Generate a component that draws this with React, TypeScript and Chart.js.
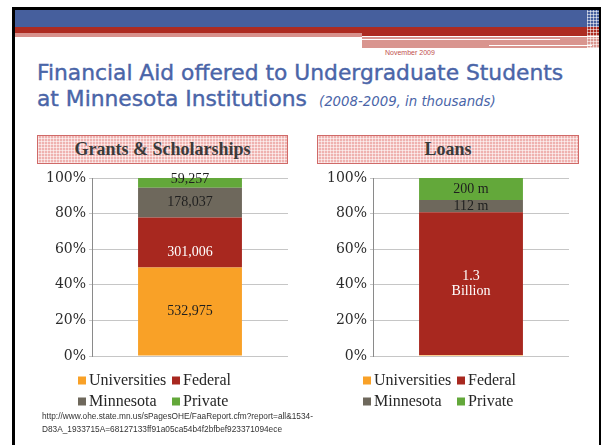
import React, { useEffect, useRef } from 'react';
import { Chart, registerables } from 'chart.js';

Chart.register(...registerables);

// ---------- data ----------
const seriesNames = ['Universities', 'Federal', 'Minnesota', 'Private'];
const seriesColors = ['#F9A127', '#A8281F', '#6E685C', '#63A83A'];
const labelColors = ['#1F1F1F', '#FFFFFF', '#1F1F1F', '#1F1F1F'];

const grantsCategory = ['Grants & Scholarships'];
const grantsValues = [532975, 301006, 178037, 59257]; // in thousands
const grantsLabels = ['532,975', '301,006', '178,037', '59,257'];

const loansCategory = ['Loans'];
const loansValues = [8, 1300, 112, 200]; // in millions
const loansLabels = ['', '1.3\nBillion', '112 m', '200 m'];

const yTickLabels = ['0%', '20%', '40%', '60%', '80%', '100%'];

// ---------- plugin: labels centred in each segment ----------
const segmentLabels = {
  id: 'segmentLabels',
  afterDatasetsDraw(chart: any, _args: any, opts: any) {
    const { ctx } = chart;
    ctx.save();
    ctx.font = '14px "Liberation Serif"';
    ctx.textAlign = 'center';
    ctx.textBaseline = 'middle';
    chart.data.datasets.forEach((_ds: any, di: number) => {
      const txt: string = opts.texts?.[di];
      if (!txt) return;
      const el = chart.getDatasetMeta(di).data[0];
      if (!el) return;
      const { x, y, base } = el.getProps(['x', 'y', 'base'], true);
      const lines = txt.split('\n');
      const lh = 15;
      const cy = (y + base) / 2 + ((opts.nudge && opts.nudge[di]) || 0);
      ctx.fillStyle = opts.colors[di];
      lines.forEach((ln, li) => {
        ctx.fillText(ln, x, cy + (li - (lines.length - 1) / 2) * lh);
      });
    });
    ctx.restore();
  },
};

// ---------- plugin: 2 x 2 legend under the plot ----------
const gridLegend = {
  id: 'gridLegend',
  afterDraw(chart: any, _args: any, opts: any) {
    const { ctx, chartArea } = chart;
    ctx.save();
    ctx.font = '16px "Liberation Serif"';
    ctx.textBaseline = 'middle';
    ctx.textAlign = 'left';
    chart.data.datasets.forEach((ds: any, i: number) => {
      const col = i % 2;
      const row = Math.floor(i / 2);
      const x = chartArea.left + opts.colX[col];
      const y = chartArea.bottom + opts.rowY[row];
      ctx.fillStyle = ds.backgroundColor;
      ctx.fillRect(x, y - 4, 8, 8);
      ctx.fillStyle = '#262626';
      ctx.fillText(ds.label, x + 11, y + 0.5);
    });
    ctx.restore();
  },
};

type StackProps = {
  category: string[];
  values: number[];
  texts: string[];
  yWidth: number;
  padRight: number;
  nudge?: Record<number, number>;
  colX: number[];
  width: number;
  height: number;
};

function StackChart({ category, values, texts, yWidth, padRight, nudge, colX, width, height }: StackProps) {
  const ref = useRef<HTMLCanvasElement>(null);
  useEffect(() => {
    if (!ref.current) return;
    const total = values.reduce((a, b) => a + b, 0);
    const chart = new Chart(ref.current, {
      type: 'bar',
      data: {
        labels: category,
        datasets: seriesNames.map((name, i) => ({
          label: name,
          data: [(values[i] / total) * 100],
          backgroundColor: seriesColors[i],
          borderWidth: 0,
          barPercentage: 0.53,
          categoryPercentage: 1,
        })),
      },
      options: {
        responsive: false,
        animation: false,
        layout: { padding: { top: 13, left: 0, right: padRight, bottom: 52 } },
        scales: {
          x: {
            stacked: true,
            ticks: { display: false },
            grid: { display: false },
            border: { display: false },
            afterFit: (s: any) => {
              s.height = 11;
            },
          },
          y: {
            stacked: true,
            min: 0,
            max: 100,
            ticks: {
              stepSize: 20,
              padding: 3,
              color: '#2B2B2B',
              font: { family: 'DejaVu Serif', size: 14 },
              callback: (_v: any, idx: number) => yTickLabels[idx],
            },
            grid: { color: '#C6C6C6', lineWidth: 1, tickLength: 3, drawTicks: true },
            border: { display: true, color: '#8A8A8A', width: 1 },
            afterFit: (s: any) => {
              s.width = yWidth;
            },
          },
        },
        plugins: {
          tooltip: { enabled: false },
          legend: { display: false },
          segmentLabels: { texts, colors: labelColors, nudge },
          gridLegend: { colX, rowY: [24.5, 45.5] },
        } as any,
      },
      plugins: [segmentLabels, gridLegend],
    });
    return () => chart.destroy();
  }, []);
  return <canvas ref={ref} width={width} height={height} style={{ width, height, display: 'block' }} />;
}

const abs = (s: React.CSSProperties): React.CSSProperties => ({ position: 'absolute', ...s });

const checker =
  'repeating-linear-gradient(0deg, rgba(255,255,255,0.55) 0px, rgba(255,255,255,0.55) 1px, transparent 1px, transparent 3px), ' +
  'repeating-linear-gradient(90deg, rgba(255,255,255,0.55) 0px, rgba(255,255,255,0.55) 1px, transparent 1px, transparent 3px)';

const boxStyle = (left: number, width: number): React.CSSProperties =>
  abs({
    left,
    top: 135,
    width,
    height: 29,
    boxSizing: 'border-box',
    border: '1px solid #D06A68',
    backgroundColor: '#EFB2B0',
    backgroundImage: checker,
    color: '#3A3A3A',
    font: 'bold 18px "Liberation Serif"',
    lineHeight: '27px',
    textAlign: 'center',
  });

export default function App() {
  return (
    <div style={abs({ left: 0, top: 0, width: 602, height: 445, background: '#fff', overflow: 'hidden' })}>
      {/* slide frame and header bands */}
      <div style={abs({ left: 12, top: 7, width: 584, height: 450, borderLeft: '3px solid #000', borderTop: '3px solid #000', borderRight: '2px solid #000' })} />
      <div style={abs({ left: 15, top: 10, width: 584, height: 17, background: '#465F9D' })} />
      <div style={abs({ left: 15, top: 27, width: 584, height: 6, background: '#AD2B21' })} />
      <div style={abs({ left: 362, top: 33, width: 237, height: 3, background: '#AD2B21' })} />
      <div style={abs({ left: 15, top: 33, width: 347, height: 4, background: '#D8918C' })} />
      <div style={abs({ left: 362, top: 37, width: 237, height: 11, background: '#D9958F' })} />
      <div style={abs({ left: 362, top: 39, width: 198, height: 1, background: '#fff' })} />
      <div style={abs({ left: 489, top: 45, width: 103, height: 1, background: '#fff' })} />
      <div style={abs({ left: 587, top: 10, width: 12, height: 38, backgroundImage: checker })} />
      <div style={abs({ left: 385, top: 49, font: '7px "Liberation Sans"', color: '#C0504D', whiteSpace: 'nowrap' })}>November 2009</div>

      {/* title */}
      <div
        style={abs({
          left: 37,
          top: 59.5,
          font: '21.8px "DejaVu Sans"',
          lineHeight: '26px',
          color: '#4A65A8',
          whiteSpace: 'nowrap',
          WebkitTextStroke: '0.4px #4A65A8',
        })}
      >
        <div>Financial Aid offered to Undergraduate Students</div>
        <div>
          at Minnesota Institutions
          <span style={{ marginLeft: 12, font: 'italic 13.3px "DejaVu Sans"', WebkitTextStroke: '0px' }}>(2008-2009, in thousands)</span>
        </div>
      </div>

      {/* chart headers */}
      <div style={boxStyle(37, 251)}>Grants &amp; Scholarships</div>
      <div style={boxStyle(317, 262)}>Loans</div>

      {/* charts */}
      <div style={abs({ left: 18, top: 165 })}>
        <StackChart category={grantsCategory} values={grantsValues} texts={grantsLabels} yWidth={74} padRight={7} nudge={{ 1: 10, 3: -4 }} colX={[-14, 80]} width={277} height={254} />
      </div>
      <div style={abs({ left: 307, top: 165 })}>
        <StackChart category={loansCategory} values={loansValues} texts={loansLabels} yWidth={66} padRight={6} colX={[-10, 84]} width={268} height={254} />
      </div>

      {/* source */}
      <div style={abs({ left: 42, top: 410, font: '8.3px "Liberation Sans"', lineHeight: '13px', color: '#333', whiteSpace: 'nowrap' })}>
        <div>http://www.ohe.state.mn.us/sPagesOHE/FaaReport.cfm?report=all&amp;1534-</div>
        <div>D83A_1933715A=68127133ff91a05ca54b4f2bfbef923371094ece</div>
      </div>
    </div>
  );
}
